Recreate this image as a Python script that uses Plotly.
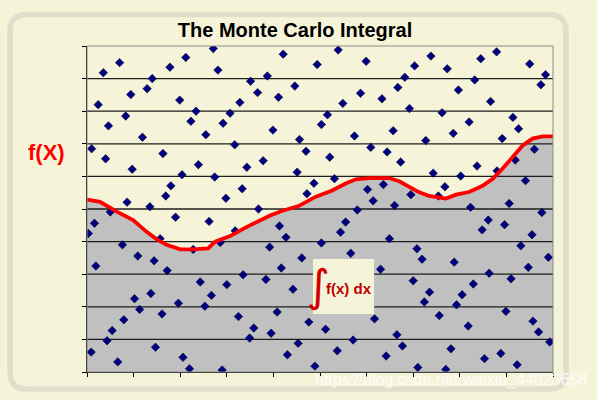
import plotly.graph_objects as go

# ---------------- data ----------------
PTS_X = [0.35, 0.70, 0.24, 0.94, 1.29, 1.40, 1.78, 2.12, 1.99, 2.34, 2.23, 0.46, 0.83, 1.19, 0.10, 0.40, 0.97, 1.63, 2.39, 2.04, 1.80, 1.69, 0.86, 1.35, 2.55,
         2.71, 2.81, 4.21, 4.94, 3.87, 3.51, 3.66, 4.46, 4.11, 3.28, 3.07, 2.92, 3.99, 5.03, 4.56, 3.17, 4.70, 3.78, 3.43, 2.74, 4.51, 4.87, 3.33, 4.72, 2.98, 3.68,
         5.39, 5.99, 7.38, 7.03, 6.82, 6.67, 5.87, 6.33, 5.49, 6.92, 5.16, 6.57, 5.74, 7.27, 6.09, 6.44, 5.21, 6.73, 7.43, 5.31, 6.02, 6.36, 6.95, 6.14, 6.60, 5.80,
         7.73, 8.45, 8.79, 9.50, 9.84, 9.74, 8.32, 7.97, 8.66, 7.62, 9.14, 8.20, 9.26, 7.86, 8.91, 9.60, 9.19, 8.37, 8.80, 8.02, 9.41, 7.68, 7.54, 8.23, 9.06, 9.76,
         0.16, 0.03, 0.50, 1.90, 1.57, 0.76, 2.28, 1.09, 1.44, 0.19, 1.72, 2.43, 1.02, 1.37, 1.96, 2.53, 1.13, 1.61, 0.79, 0.54, 0.43, 0.09, 1.47, 0.66, 2.06, 2.20,
         2.62, 3.18, 4.13, 4.27, 2.86, 3.92, 4.61, 4.17, 3.35, 3.84, 5.03, 3.00, 2.67, 4.42, 3.25, 4.08, 4.76, 3.58, 3.49, 3.95, 4.53, 4.30, 4.89, 2.90,
         5.55, 5.44, 6.49, 7.08, 5.66, 7.19, 6.30, 7.00, 7.35, 7.24, 6.17, 7.56, 5.12, 6.65, 5.71, 6.77, 5.37, 6.42, 7.10,
         8.61, 8.48, 8.96, 9.55, 9.31, 9.90, 7.88, 9.47, 8.63, 9.10, 8.29, 8.05, 7.93, 8.99, 8.18, 9.57, 9.69, 9.93, 7.81, 8.53, 8.88, 9.23, 7.70]
PTS_Y = [9.18, 9.49, 8.20, 8.51, 8.69, 9.00, 9.35, 9.65, 8.34, 8.00, 7.69, 7.55, 7.85, 7.20, 6.85, 6.54, 6.22, 6.70, 6.36, 6.05, 5.71, 5.40, 5.21, 5.07, 7.28,
         9.92, 9.26, 9.75, 9.43, 9.08, 8.92, 8.57, 8.77, 8.43, 8.27, 7.94, 7.63, 7.42, 7.59, 7.13, 6.97, 6.77, 6.48, 6.28, 5.98, 6.13, 5.79, 5.62, 5.47, 5.33, 5.00,
         9.88, 9.53, 9.69, 9.39, 9.04, 8.73, 8.55, 8.38, 8.24, 8.08, 7.89, 7.40, 7.24, 7.10, 6.89, 6.75, 6.59, 6.44, 6.10, 5.93, 5.60, 5.75, 5.44, 5.25, 5.11, 4.97,
         9.30, 9.61, 9.82, 9.45, 9.12, 8.81, 8.96, 8.65, 8.30, 7.95, 7.81, 7.67, 7.46, 7.32, 7.16, 6.83, 6.50, 6.32, 6.17, 6.01, 5.87, 5.68, 5.40, 5.05, 5.17, 4.89,
         4.56, 4.25, 4.91, 4.75, 4.09, 3.90, 3.76, 3.56, 3.41, 3.25, 3.11, 2.76, 2.25, 2.41, 2.11, 2.02, 1.92, 1.78, 1.60, 1.27, 0.96, 0.61, 0.76, 0.31, 0.45, 0.10,
         4.62, 4.33, 4.48, 4.13, 3.97, 3.83, 3.50, 3.19, 2.98, 2.84, 3.96, 2.68, 2.35, 2.54, 1.70, 1.84, 1.53, 1.35, 1.04, 1.19, 0.88, 0.53, 0.18, 0.06,
         4.60, 4.29, 4.09, 3.78, 3.64, 3.46, 3.15, 2.80, 2.45, 2.15, 1.63, 1.73, 1.31, 1.14, 0.98, 0.80, 0.65, 0.49, 0.14,
         4.66, 4.36, 4.52, 4.21, 3.87, 3.52, 3.37, 3.21, 3.03, 2.86, 2.70, 2.37, 2.06, 1.86, 1.41, 1.56, 1.23, 0.92, 0.71, 0.41, 0.57, 0.22, 0.08]

CURVE_X = [0, 0.28, 0.64, 0.99, 1.28, 1.50, 1.71, 2.00, 2.28, 2.60, 2.75, 3.07, 3.40, 3.68, 3.93, 4.18, 4.54, 4.90, 5.26, 5.55,
           5.77, 6.05, 6.48, 6.70, 6.91, 7.12, 7.34, 7.70, 7.92, 8.20, 8.49, 8.71, 8.92, 9.14, 9.35, 9.56, 9.78, 10.0]
CURVE_Y = [5.29, 5.22, 4.92, 4.66, 4.30, 4.07, 3.90, 3.76, 3.76, 3.79, 4.00, 4.17, 4.43, 4.63, 4.80, 4.94, 5.09, 5.37, 5.57, 5.78,
           5.91, 5.95, 5.95, 5.85, 5.67, 5.52, 5.40, 5.32, 5.44, 5.52, 5.71, 5.93, 6.24, 6.60, 6.95, 7.16, 7.23, 7.23]

GRID_Y = [1, 2, 3, 4, 5, 6, 7, 8, 9]
X_RANGE = [0, 10]
Y_RANGE = [0, 10]

TITLE = "The Monte Carlo Integral"
Y_LABEL = "f(X)"
INTEGRAL_LABEL = "f(x) dx"
WATERMARK = "https://blog.csdn.net/weixin_44023658"

# ---------------- styling ----------------
W, H = 597, 400
L, R, T, B = 87, 44, 46, 28
PW, PH = W - L - R, H - T - B
BG = "#F6F4D8"
FRAME = "#E0DFCB"
FONT = "Liberation Sans, Arial, sans-serif"


def px(x):
    return (x - L) / PW


def py(y):
    return (H - B - y) / PH


fig = go.Figure()

# gray area under the curve
fig.add_trace(go.Scatter(x=CURVE_X, y=CURVE_Y, mode="lines", fill="tozeroy",
                         fillcolor="#C0C0C0", line=dict(width=0, color="#C0C0C0"),
                         hoverinfo="skip", showlegend=False))

# gridlines drawn above the fill
gx, gy = [], []
for g in GRID_Y:
    gx += [X_RANGE[0], X_RANGE[1], None]
    gy += [g, g, None]
fig.add_trace(go.Scatter(x=gx, y=gy, mode="lines", line=dict(color="#1E1E1E", width=1.3),
                         hoverinfo="skip", showlegend=False))

# random points
fig.add_trace(go.Scatter(x=PTS_X, y=PTS_Y, mode="markers",
                         marker=dict(symbol="diamond", size=6.5, color="#000080",
                                     line=dict(width=0.6, color="#00003A")),
                         showlegend=False))

# the function curve
fig.add_trace(go.Scatter(x=CURVE_X, y=CURVE_Y, mode="lines",
                         line=dict(color="#FF0000", width=3.8),
                         showlegend=False))

# rounded outer frame (paper coordinates from pixel geometry)
fx0, fx1, fy0, fy1, r = 10, 566, 14.5, 389, 17
rx, ry = r / PW, r / PH
X0, X1, Y0, Y1 = px(fx0), px(fx1), py(fy1), py(fy0)
path = (f"M {X0+rx},{Y1} L {X1-rx},{Y1} Q {X1},{Y1} {X1},{Y1-ry} "
        f"L {X1},{Y0+ry} Q {X1},{Y0} {X1-rx},{Y0} L {X0+rx},{Y0} "
        f"Q {X0},{Y0} {X0},{Y0+ry} L {X0},{Y1-ry} Q {X0},{Y1} {X0+rx},{Y1} Z")

shapes = [
    dict(type="path", xref="paper", yref="paper", path=path,
         line=dict(color=FRAME, width=5.5), layer="below"),
    # gray plot border (top/right)
    dict(type="rect", xref="paper", yref="paper", x0=0, x1=1, y0=0, y1=1,
         line=dict(color="#8A8A8A", width=1), layer="above"),
    # label box
    dict(type="rect", xref="x", yref="y", x0=4.85, x1=6.16, y0=1.78, y1=3.47,
         fillcolor=BG, line=dict(width=0), layer="above"),
]

annotations = [
    dict(text="<b>" + Y_LABEL + "</b>", xref="paper", yref="paper", x=px(46), y=py(152),
         xanchor="center", yanchor="middle",
         showarrow=False, font=dict(family=FONT, size=22, color="#FF0000")),
    dict(text="∫", xref="x", yref="y", x=4.96, y=2.66, xanchor="center", yanchor="middle",
         showarrow=False,
         font=dict(family="DejaVu Sans, sans-serif", size=44, color="#D00000")),
    dict(text="<b>" + INTEGRAL_LABEL + "</b>", xref="x", yref="y", x=5.63, y=2.56,
         xanchor="center", yanchor="middle",
         showarrow=False, font=dict(family=FONT, size=15, color="#C00000")),
    dict(text=WATERMARK, xref="paper", yref="paper", x=px(451), y=py(380),
         xanchor="center", yanchor="middle",
         showarrow=False, font=dict(family=FONT, size=16, color="rgba(255,255,255,0.85)")),
]

fig.update_layout(
    width=W, height=H,
    margin=dict(l=L, r=R, t=T, b=B),
    paper_bgcolor=BG, plot_bgcolor=BG,
    title=dict(text="<b>" + TITLE + "</b>", x=295 / W, xanchor="center",
               y=1 - 30 / H, yanchor="middle",
               font=dict(family=FONT, size=20, color="#000000")),
    shapes=shapes, annotations=annotations,
    xaxis=dict(range=X_RANGE, showgrid=False, zeroline=False, showline=True,
               linecolor="#000000", linewidth=1, ticks="outside", ticklen=4,
               tickcolor="#000000", dtick=1, tick0=0, showticklabels=False),
    yaxis=dict(range=Y_RANGE, showgrid=False, zeroline=False, showline=True,
               linecolor="#000000", linewidth=1, ticks="outside", ticklen=4,
               tickcolor="#000000", dtick=1, tick0=0, showticklabels=False),
    showlegend=False,
)

fig.write_html("out.html", config={"displayModeBar": False},
               post_script="document.body.style.margin='0px';")
